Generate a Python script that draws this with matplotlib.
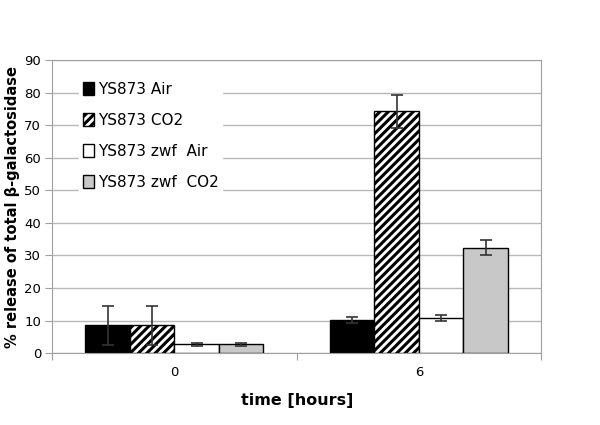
import numpy as np
import matplotlib.pyplot as plt

# data
times = ["0", "6"]
series = ["YS873 Air", "YS873 CO2", "YS873 zwf  Air", "YS873 zwf  CO2"]
air = [8.5, 10.2]
co2 = [8.5, 74.2]
zwf_air = [2.7, 10.9]
zwf_co2 = [2.7, 32.4]
air_err = [6.0, 0.8]
co2_err = [6.0, 5.0]
zwf_air_err = [0.4, 0.9]
zwf_co2_err = [0.4, 2.2]

values = [air, co2, zwf_air, zwf_co2]
errors = [air_err, co2_err, zwf_air_err, zwf_co2_err]
faces = ["black", "white", "white", "#c8c8c8"]
hatches = [None, "////", None, None]

plt.rcParams["font.family"] = ["DejaVu Sans"]
plt.rcParams["hatch.linewidth"] = 2.2
plt.rcParams["hatch.color"] = "black"

fig = plt.figure(figsize=(6, 4.25), dpi=100)
ax = fig.add_axes([0.087, 0.169, 0.815, 0.69])

x = np.arange(len(times))
w = 0.182
offsets = (np.arange(len(series)) - 1.5) * w
for vals, errs, fc, h, lab, off in zip(values, errors, faces, hatches, series, offsets):
    ax.bar(x + off, vals, w, color=fc, edgecolor="black", linewidth=1.0,
           hatch=h, label=lab, zorder=2)
    ax.errorbar(x + off, vals, yerr=errs, fmt="none", ecolor="#333333",
                elinewidth=1.2, capsize=4, capthick=1.2, zorder=3)

ax.set_xlim(-0.5, 1.5)
ax.set_ylim(0, 90)
ax.set_yticks(np.arange(0, 91, 10))
ax.yaxis.grid(True, color="#b8b8b8", linewidth=1)
ax.set_axisbelow(True)

# Excel-style category axis: ticks between categories, labels centred
ax.set_xticks([-0.5, 0.5, 1.5])
ax.set_xticklabels([])
ax.set_xticks(x, minor=True)
ax.set_xticklabels(times, minor=True)
ax.tick_params(axis="x", which="minor", length=0, pad=9, labelsize=9.5)
ax.tick_params(axis="x", which="major", length=5, color="#a0a0a0")
ax.tick_params(axis="y", length=5, color="#a0a0a0", labelsize=9.5, pad=3)

for s in ax.spines.values():
    s.set_color("#a0a0a0")

ax.set_xlabel("time [hours]", fontsize=11.5, fontweight="bold", labelpad=10)
ax.set_ylabel("% release of total β-galactosidase", fontsize=10.5,
              fontweight="bold", labelpad=3)

leg = ax.legend(loc="upper left", bbox_to_anchor=(0.04, 0.965), frameon=True,
                fontsize=11, handlelength=0.7, handleheight=0.9,
                handletextpad=0.25, labelspacing=1.05, borderpad=0.25)
leg.get_frame().set_edgecolor("white")
leg.get_frame().set_facecolor("white")
leg.get_frame().set_alpha(1)

fig.savefig("out.png", dpi=100)
